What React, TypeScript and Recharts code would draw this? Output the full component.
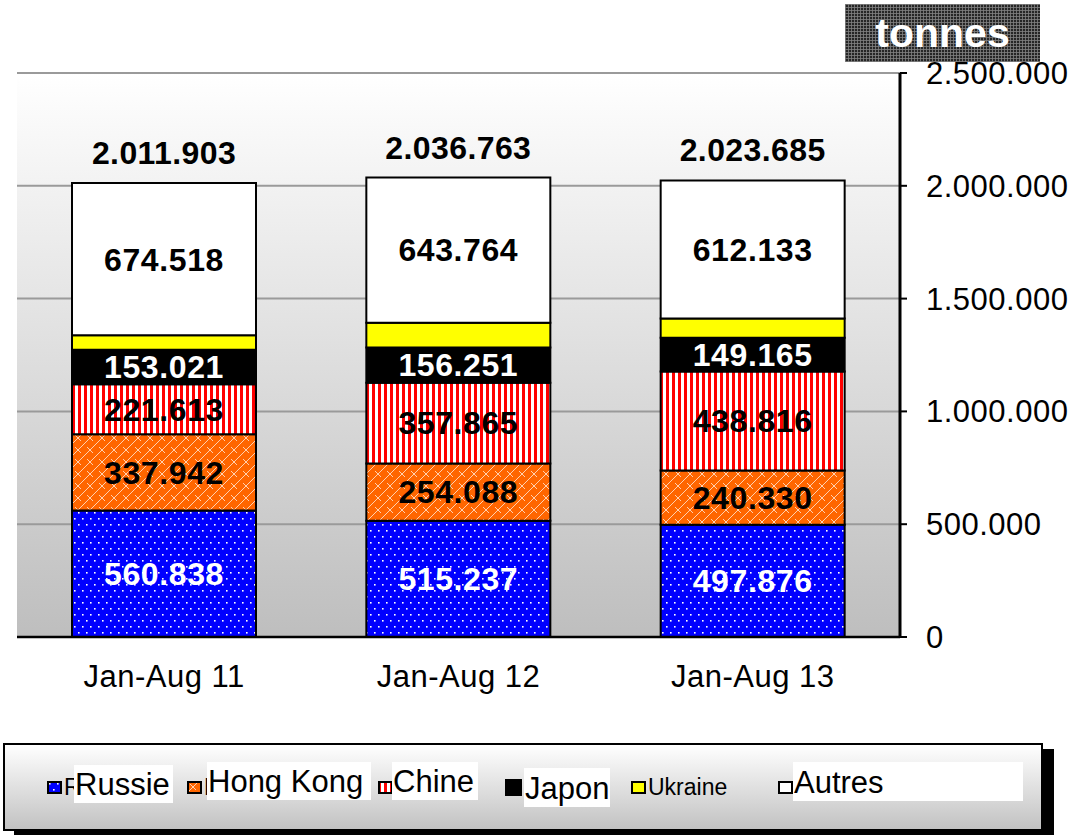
import React from "react";
import { Bar, BarChart, CartesianGrid, LabelList, XAxis, YAxis } from "recharts";

const categories = ["Jan-Aug 11", "Jan-Aug 12", "Jan-Aug 13"];
const russie = [560838, 515237, 497876];
const hongKong = [337942, 254088, 240330];
const chine = [221613, 357865, 438816];
const japon = [153021, 156251, 149165];
const ukraine = [63971, 109558, 85365];
const autres = [674518, 643764, 612133];
const totals = [2011903, 2036763, 2023685];
const yTicks = [0, 500000, 1000000, 1500000, 2000000, 2500000];

const FONT = "'Liberation Sans', Arial, sans-serif";

const fmt = (v: number) => String(v).replace(/\B(?=(\d{3})+(?!\d))/g, ".");

const data = categories.map((name, i) => ({
  name,
  russie: russie[i],
  hongKong: hongKong[i],
  chine: chine[i],
  japon: japon[i],
  ukraine: ukraine[i],
  autres: autres[i],
  total: totals[i],
}));

const series = [
  { key: "russie", name: "Russie", fill: "url(#pRussie)", label: "#fff" },
  { key: "hongKong", name: "Hong Kong", fill: "url(#pHK)", label: "#000" },
  { key: "chine", name: "Chine", fill: "url(#pChine)", label: "#000" },
  { key: "japon", name: "Japon", fill: "#000", label: "#fff" },
  { key: "ukraine", name: "Ukraine", fill: "#ffff00", label: null },
  { key: "autres", name: "Autres", fill: "#fff", label: "#000" },
];

// legend layout (page coords); under = small text peeking out
const legendPos = [
  { m: 47, under: true, box: [74, 765, 99, 38] },
  { m: 187, under: true, box: [207, 762, 164, 38] },
  { m: 378, under: false, box: [392, 762, 86, 38] },
  { m: 505, under: false, box: [524, 768, 86, 39] },
  { m: 631, under: true, box: null },
  { m: 778, under: false, box: [793, 762, 230, 39] },
];

export default function App() {
  return (
    <div
      style={{
        position: "absolute",
        left: 0,
        top: 0,
        width: 1075,
        height: 835,
        background: "#fff",
        overflow: "hidden",
        fontFamily: FONT,
      }}
    >
      <BarChart
        width={1075}
        height={835}
        data={data}
        margin={{ top: 73, right: 0, bottom: 138, left: 17 }}
      >
        <defs>
          <linearGradient id="plotBg" x1="0" y1="0" x2="0" y2="1">
            <stop offset="0%" stopColor="#ffffff" />
            <stop offset="100%" stopColor="#bebebe" />
          </linearGradient>
          <pattern id="pRussie" width="8" height="12" patternUnits="userSpaceOnUse">
            <rect width="8" height="12" fill="#0000ff" />
            <rect x="2" y="2" width="1.6" height="1.6" fill="#fff" />
            <rect x="6" y="8" width="1.6" height="1.6" fill="#fff" />
          </pattern>
          <pattern id="pHK" width="12" height="12" patternUnits="userSpaceOnUse">
            <rect width="12" height="12" fill="#ff6600" />
            <path d="M0 12 L12 0 M-3 3 L3 -3 M9 15 L15 9" stroke="#ffd0b0" strokeWidth="1" />
            <path d="M3 3 L9 9" stroke="#ffd0b0" strokeWidth="1" />
          </pattern>
          <pattern id="pChine" width="6" height="6" patternUnits="userSpaceOnUse">
            <rect width="6" height="6" fill="#ff0000" />
            <rect x="3" width="3" height="6" fill="#fff" />
          </pattern>
        </defs>
        <CartesianGrid
          yAxisId="r"
          vertical={false}
          stroke="#9a9a9a"
          strokeWidth={2}
          fill="url(#plotBg)"
          fillOpacity={1}
        />
        <XAxis
          dataKey="name"
          height={60}
          tickLine={false}
          tickMargin={22}
          axisLine={{ stroke: "#000", strokeWidth: 2.5 }}
          tick={{ fontSize: 31, fill: "#000", fontFamily: FONT, letterSpacing: 0.5 }}
        />
        <YAxis
          yAxisId="l"
          orientation="left"
          width={0}
          tick={false}
          tickLine={false}
          domain={[0, 2500000]}
          axisLine={{ stroke: "#808080", strokeWidth: 2 }}
        />
        <YAxis
          yAxisId="r"
          orientation="right"
          width={175}
          domain={[0, 2500000]}
          ticks={yTicks}
          interval={0}
          tickSize={7}
          tickMargin={19}
          tickFormatter={fmt}
          axisLine={{ stroke: "#000", strokeWidth: 3 }}
          tickLine={{ stroke: "#000", strokeWidth: 2 }}
          tick={{ fontSize: 31, fill: "#000", fontFamily: FONT, letterSpacing: 0.5 }}
        />
        {series.map((s) => (
          <Bar
            key={s.key}
            dataKey={s.key}
            name={s.name}
            stackId="a"
            yAxisId="r"
            barSize={184}
            fill={s.fill}
            stroke="#000"
            strokeWidth={2}
            isAnimationActive={false}
          >
            {s.label && (
              <LabelList
                dataKey={s.key}
                position="center"
                formatter={fmt}
                fill={s.label}
                stroke="none"
                fontSize={32}
                fontWeight="bold"
                fontFamily={FONT}
                letterSpacing={0.6}
              />
            )}
            {s.key === "autres" && (
              <LabelList
                dataKey="total"
                position="top"
                offset={19}
                formatter={fmt}
                fill="#000"
                stroke="none"
                fontSize={32}
                fontWeight="bold"
                fontFamily={FONT}
                letterSpacing={0.4}
              />
            )}
          </Bar>
        ))}
      </BarChart>

      <div
        style={{
          position: "absolute",
          left: 845,
          top: 4,
          width: 195,
          height: 58,
          backgroundColor: "#262626",
          backgroundImage:
            "repeating-linear-gradient(0deg, rgba(130,130,130,0.8) 0 1px, transparent 1px 3px), repeating-linear-gradient(90deg, rgba(130,130,130,0.8) 0 1px, transparent 1px 3px)",
          color: "#fff",
          fontWeight: "bold",
          fontSize: 41,
          lineHeight: "58px",
          textAlign: "center",
        }}
      >
        tonnes
      </div>

      <div
        style={{
          position: "absolute",
          left: 3,
          top: 743,
          width: 1036,
          height: 84,
          border: "2px solid #000",
          background: "linear-gradient(#ffffff, #c2c2c2)",
          boxShadow: "11px 6px 0 #000",
        }}
      />
      {series.map((s, i) => {
        const p = legendPos[i];
        const big = s.key === "japon";
        return (
          <React.Fragment key={s.key}>
            <svg
              style={{ position: "absolute", left: p.m, top: big ? 779 : 781 }}
              width={big ? 17 : 15}
              height={big ? 17 : 13}
            >
              <rect
                x={1}
                y={1}
                width={big ? 15 : 13}
                height={big ? 15 : 11}
                fill={s.fill}
                stroke="#000"
                strokeWidth={2}
              />
            </svg>
            {p.under && (
              <div
                style={{
                  position: "absolute",
                  left: p.m + 17,
                  top: 772,
                  fontSize: 23,
                  lineHeight: "30px",
                  color: "#000",
                  whiteSpace: "nowrap",
                }}
              >
                {s.name}
              </div>
            )}
            {p.box && (
              <div
                style={{
                  position: "absolute",
                  left: p.box[0],
                  top: p.box[1],
                  width: p.box[2],
                  height: p.box[3],
                  background: "#fff",
                  fontSize: 31,
                  lineHeight: `${p.box[3] + 2}px`,
                  paddingLeft: 1,
                  boxSizing: "border-box",
                  color: "#000",
                  whiteSpace: "nowrap",
                  overflow: "hidden",
                }}
              >
                {s.name}
              </div>
            )}
          </React.Fragment>
        );
      })}
    </div>
  );
}
